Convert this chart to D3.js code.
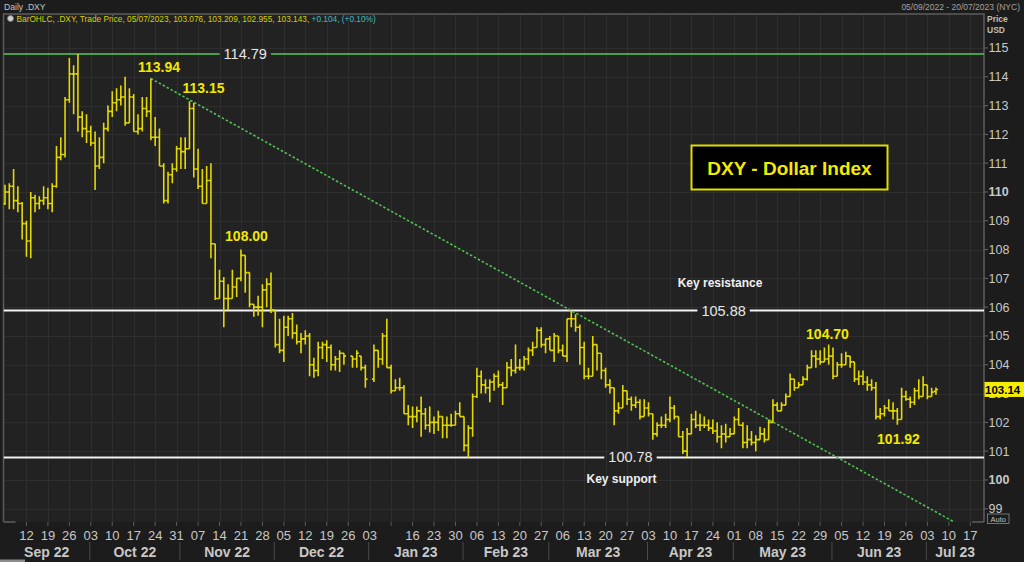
<!DOCTYPE html>
<html><head><meta charset="utf-8">
<script src="https://cdn.jsdelivr.net/npm/d3@7"></script>
<style>
html,body{margin:0;padding:0;background:#1c1c1c;overflow:hidden}
svg{display:block}
text{font-family:"Liberation Sans",Arial,sans-serif}
</style></head><body>
<svg id="c" width="1024" height="562"></svg>
<script>
// ---- DATA (daily OHLC, .DXY, consecutive weekdays starting 05/09/2022; null = no bar) ----
const startDate = "2022-09-05";
const opens = [
109.6,110.0,110.2,109.7,109.6,108.9,108.3,109.8,109.6,109.7,
109.8,109.6,110.2,111.2,111.3,113.2,114.1,114.1,112.6,112.2,
112.1,111.7,110.9,111.2,112.2,112.8,113.1,113.2,113.3,112.4,
113.3,112.1,112.2,112.9,112.8,111.9,111.9,110.9,109.7,110.6,
110.8,111.5,111.4,111.5,112.9,110.8,110.2,109.6,110.4,108.2,
106.3,106.9,106.3,106.3,106.7,107.0,107.8,107.2,106.1,106.0,
106.0,106.6,106.8,105.9,104.7,104.5,105.3,105.6,105.1,104.8,
104.9,105.0,104.0,103.8,104.6,104.7,104.6,104.0,104.2,104.4,
null,104.3,104.2,104.3,103.9,null,103.5,104.5,104.2,105.0,
103.9,103.1,103.2,103.2,102.3,102.2,102.2,102.4,102.3,101.9,
102.0,102.0,102.2,101.9,101.9,101.9,102.3,102.2,101.2,101.8,
102.9,103.6,103.3,103.2,103.4,103.6,103.3,103.2,103.9,103.8,
103.9,103.9,104.2,104.5,104.6,105.2,104.7,104.9,104.5,105.0,
104.5,104.3,105.6,105.6,105.3,104.6,103.6,103.6,104.7,104.4,
103.8,103.3,103.2,102.4,102.5,103.1,102.8,102.6,102.7,102.2,
102.5,102.3,101.6,101.9,101.9,102.1,102.5,102.2,101.5,101.0,
101.6,102.1,101.9,101.9,101.9,101.8,101.7,101.5,101.6,101.5,
101.6,102.1,101.9,101.3,101.4,101.3,101.4,101.6,101.4,102.0,
102.6,102.4,102.6,102.9,103.5,103.2,103.3,103.5,103.9,104.3,
104.2,104.1,104.2,104.3,103.6,104.0,104.0,104.3,104.1,103.5,
103.6,103.4,103.3,103.2,102.2,102.3,102.5,102.4,102.4,102.1,
102.9,102.8,102.7,103.1,102.9,103.3,102.9,103.076];
const highs = [
110.25,110.3,110.8,110.2,109.65,109.0,110.0,109.9,109.85,110.2,
110.15,110.3,111.6,111.9,113.3,114.65,114.4,114.79,112.8,112.7,
112.3,112.1,111.9,112.4,113.0,113.5,113.6,113.7,114.0,113.6,
113.4,112.7,113.3,113.3,113.94,112.6,112.2,111.0,110.7,111.0,
111.6,111.9,111.9,113.15,113.1,111.5,110.8,110.9,111.0,108.2,
107.3,107.05,106.8,107.3,107.0,108.0,107.8,107.2,106.1,106.4,
106.8,107.0,107.2,105.9,105.6,105.7,105.7,105.8,105.4,105.1,
105.2,105.1,104.24,104.8,104.8,104.85,104.7,104.3,104.5,104.4,
null,104.3,104.5,104.3,104.0,null,104.7,104.5,105.1,105.6,
104.0,103.5,103.55,103.3,102.6,102.55,102.55,102.9,102.5,102.55,
102.2,102.4,102.2,102.2,102.3,102.4,102.7,102.2,101.9,103.0,
103.9,103.8,103.5,103.5,103.7,103.8,103.4,104.1,104.2,104.7,
104.2,104.3,104.6,104.8,105.3,105.3,104.9,105.0,105.1,105.0,
104.7,105.6,105.88,105.75,105.4,104.8,103.9,105.0,104.7,104.4,
103.9,103.5,103.2,102.7,103.3,103.1,102.9,102.9,102.8,102.8,
102.7,102.3,102.0,102.2,102.3,102.9,102.6,102.2,101.7,101.8,
102.3,102.4,102.3,102.2,102.1,102.1,102.0,101.9,101.95,101.8,
102.2,102.5,102.0,101.9,101.7,101.55,101.85,101.8,102.1,102.8,
102.7,102.7,103.0,103.7,103.5,103.4,103.6,104.0,104.5,104.5,
104.5,104.6,104.7,104.6,104.1,104.4,104.45,104.3,104.1,103.8,
103.8,103.6,103.5,103.4,102.5,102.6,102.8,102.7,102.5,103.2,
103.1,102.9,103.2,103.5,103.6,103.3,103.2,103.209];
const lows = [
109.55,109.4,109.4,109.3,108.35,107.75,107.7,109.3,109.4,109.55,
109.4,109.3,110.15,111.1,111.2,113.1,112.7,112.1,111.9,111.7,
111.6,110.07,110.8,111.0,112.1,112.6,112.8,113.0,112.3,112.4,
112.1,112.0,112.1,112.6,111.8,111.6,110.9,109.6,109.6,110.3,
110.7,110.8,110.8,111.5,110.5,110.1,109.6,109.6,107.7,106.25,
106.3,105.3,105.9,106.3,106.35,106.9,106.5,106.0,105.67,105.7,
105.3,106.0,105.8,104.6,104.4,104.1,105.0,104.9,104.7,104.4,
104.7,103.6,103.55,103.6,104.2,104.1,103.8,103.8,103.75,104.0,
null,103.9,103.9,103.8,103.2,null,103.4,103.9,104.0,103.9,
103.0,103.1,103.1,102.3,101.9,101.8,102.0,101.5,101.75,101.65,
101.6,101.7,101.45,101.45,101.85,101.9,102.2,101.0,100.78,101.5,
102.85,103.0,103.0,102.7,103.1,103.2,102.6,103.2,103.6,103.7,
103.8,103.8,104.0,104.3,104.6,104.6,104.4,104.5,104.1,104.4,
104.3,104.1,105.3,105.15,104.0,103.5,103.5,103.6,103.8,103.5,
103.2,103.0,101.9,102.3,102.5,102.6,102.4,102.5,102.1,102.2,
102.2,101.4,101.5,101.8,101.8,102.0,102.1,101.5,100.9,100.8,
101.6,101.8,101.7,101.8,101.7,101.6,101.3,101.1,101.3,101.5,
101.6,101.9,101.1,101.1,101.2,101.0,101.4,101.3,101.4,102.0,
102.4,102.4,102.6,102.9,103.1,103.2,103.3,103.45,103.9,103.9,
104.0,104.1,104.0,103.5,103.6,103.9,104.0,103.9,103.4,103.3,
103.3,103.1,103.1,102.1,102.1,102.2,102.4,102.1,101.92,102.1,
102.75,102.5,102.6,102.8,102.9,102.8,102.9,102.955];
const closes = [
110.0,110.2,109.7,109.6,108.9,108.3,109.8,109.6,109.7,109.8,
109.6,110.2,111.2,111.3,113.2,114.1,114.1,112.6,112.2,112.1,
111.7,110.9,111.2,112.2,112.8,113.1,113.2,113.3,112.4,113.3,
112.1,112.2,112.9,112.8,111.9,111.9,110.9,109.7,110.6,110.8,
111.5,111.4,111.5,112.9,110.8,110.2,109.6,110.4,108.2,106.3,
106.9,106.3,106.3,106.7,107.0,107.8,107.2,106.1,106.0,106.0,
106.6,106.8,105.9,104.7,104.5,105.3,105.6,105.1,104.8,104.9,
105.0,104.0,103.8,104.6,104.7,104.6,104.0,104.2,104.4,104.3,
null,104.2,104.4,103.9,103.5,null,104.5,104.2,105.0,103.9,
103.1,103.2,103.2,102.3,102.2,102.2,102.4,102.3,101.9,102.0,
102.0,102.2,101.9,101.9,101.9,102.3,102.2,101.2,101.8,102.9,
103.6,103.3,103.2,103.4,103.6,103.3,103.2,103.9,103.8,103.9,
103.9,104.2,104.5,104.6,105.2,104.7,104.9,104.5,105.0,104.5,
104.3,105.6,105.6,105.3,104.6,103.6,103.6,104.7,104.4,103.8,
103.3,103.2,102.4,102.5,103.1,102.8,102.6,102.7,102.2,102.5,
102.3,101.6,101.9,101.9,102.1,102.5,102.2,101.5,101.0,101.6,
102.1,101.9,101.9,101.9,101.8,101.7,101.5,101.6,101.5,101.6,
102.1,101.9,101.3,101.4,101.3,101.4,101.6,101.4,102.0,102.6,
102.4,102.6,102.9,103.5,103.2,103.3,103.5,103.9,104.3,104.2,
104.1,104.2,104.3,103.6,104.0,104.0,104.3,104.1,103.5,103.6,
103.4,103.3,103.2,102.2,102.3,102.5,102.4,102.4,102.1,102.9,
102.8,102.7,103.1,102.9,103.3,102.9,103.05,103.143];

const priceTicks = [99,100,101,102,103,104,105,106,107,108,109,110,111,112,113,114,115];
const boldPriceTicks = [100,110];
const dayTickLabels = ["12","19","26","03","10","17","24","31","07","14","21","28","05","12","19","26",
  "03","","16","23","30","06","13","20","27","06","13","20","27","03","10","17","24",
  "01","08","15","22","29","05","12","19","26","03","10","17"];
const monthLabels = ["Sep 22","Oct 22","Nov 22","Dec 22","Jan 23","Feb 23","Mar 23","Apr 23","May 23","Jun 23","Jul 23"];
const keyLevels = [114.79, 105.88, 100.78];
const keyLevelNames = ["114.79","105.88","100.78"];
const peakValues = [113.94, 113.15, 108.00, 104.70, 101.92];
const peakNames = ["113.94","113.15","108.00","104.70","101.92"];
const trendAnchorIdx = [34, 132];        // 21/10/2022 high and 08/03/2023 high
const trendAnchorVal = [113.94, 105.88];
const lastPrice = 103.143;
const title = "DXY - Dollar Index";

// ---- LAYOUT ----
const svg = d3.select("#c");
const W = 1024, H = 562;
const P = {l:3.5, r:984, t:14, b:522};
const n = Math.min(opens.length, highs.length, lows.length, closes.length);

// weekday calendar (axis categories)
const cal = [];
{ const d = new Date(startDate + "T12:00:00"); while (cal.length < 232) { const wd = d.getDay(); if (wd > 0 && wd < 6) cal.push(new Date(d)); d.setDate(d.getDate() + 1); } }

const x = d3.scaleLinear().domain([-0.35, 228.2]).range([P.l, P.r]);
const y = d3.scaleLinear().domain([98.54, 116.18]).range([P.b, P.t]);

const BG = "#1c1c1c", PLOT = "#222222", GRID = "#2e2e2e", AX = "#5c5c5c", TXT = "#c8c8c8";

svg.append("rect").attr("width", W).attr("height", H).attr("fill", BG);
svg.append("rect").attr("x", P.l).attr("y", P.t).attr("width", P.r - P.l).attr("height", P.b - P.t).attr("fill", PLOT);

// weekly ticks (Mondays from 12/09/2022)
const mondayIdx = [];
cal.forEach((d, i) => { if (d.getDay() === 1 && i >= 5 && mondayIdx.length < dayTickLabels.length) mondayIdx.push(i); });

// grid
const grid = svg.append("g");
grid.selectAll("line.v").data(mondayIdx).join("line").attr("class","v")
  .attr("x1", d => Math.round(x(d)) + 0.5).attr("x2", d => Math.round(x(d)) + 0.5)
  .attr("y1", P.t).attr("y2", P.b).attr("stroke", GRID).attr("stroke-width", 1);
grid.selectAll("line.h").data(priceTicks).join("line").attr("class","h")
  .attr("x1", P.l).attr("x2", P.r)
  .attr("y1", d => Math.round(y(d)) + 0.5).attr("y2", d => Math.round(y(d)) + 0.5)
  .attr("stroke", GRID).attr("stroke-width", 1);

// frame
const fr = svg.append("g").attr("stroke", AX).attr("stroke-width", 1.5).attr("fill", "none");
fr.append("path").attr("d", `M${P.l},${P.b}V${P.t}H${P.r}V${P.b}`);
fr.append("path").attr("d", `M${P.l},${P.b}H${P.l + 12}M${P.r - 12},${P.b}H${P.r}`);

// right axis
const ya = svg.append("g");
ya.selectAll("line").data(priceTicks).join("line")
  .attr("x1", P.r).attr("x2", P.r + 4).attr("y1", d => y(d)).attr("y2", d => y(d))
  .attr("stroke", AX).attr("stroke-width", 1.2);
ya.selectAll("text").data(priceTicks).join("text")
  .attr("x", P.r + 4.5).attr("y", d => y(d)).attr("dy", "0.36em")
  .attr("fill", TXT).attr("font-size", 12.5)
  .attr("font-weight", d => boldPriceTicks.includes(d) ? "bold" : "normal")
  .text(d => d);
svg.append("text").attr("x", 987).attr("y", 22).attr("fill", "#bdbdbd").attr("font-size", 8.5).attr("font-weight", "bold").text("Price");
svg.append("text").attr("x", 987).attr("y", 33).attr("fill", "#bdbdbd").attr("font-size", 8.5).attr("font-weight", "bold").text("USD");
svg.append("rect").attr("x", 987.5).attr("y", 514).attr("width", 21.5).attr("height", 9.5).attr("fill", "none").attr("stroke", "#8a8a8a").attr("stroke-width", 0.8);
svg.append("text").attr("x", 998.2).attr("y", 521.6).attr("text-anchor", "middle").attr("fill", "#c0c0c0").attr("font-size", 7.5).text("Auto");

// bottom axis: day ticks
const xa = svg.append("g");
xa.selectAll("line").data(mondayIdx).join("line")
  .attr("x1", d => x(d)).attr("x2", d => x(d)).attr("y1", P.b).attr("y2", P.b + 4)
  .attr("stroke", AX).attr("stroke-width", 1);
xa.selectAll("text").data(mondayIdx).join("text")
  .attr("x", d => x(d)).attr("y", 540).attr("text-anchor", "middle")
  .attr("fill", TXT).attr("font-size", 13)
  .text((d, k) => dayTickLabels[k]);

// months
const monthStart = [0];
for (let i = 1; i < cal.length && monthStart.length < monthLabels.length; i++) if (cal[i].getMonth() !== cal[i-1].getMonth()) monthStart.push(i);
const sepX = monthStart.map((s, k) => k === 0 ? P.l : x(s) - 1);
const mg = svg.append("g");
sepX.slice(1).forEach(sx => mg.append("line").attr("x1", sx).attr("x2", sx).attr("y1", 542).attr("y2", 560).attr("stroke", "#4a4a4a").attr("stroke-width", 1));
monthLabels.forEach((m, k) => {
  const a = sepX[k], b = k + 1 < sepX.length ? sepX[k+1] : P.r;
  mg.append("text").attr("x", (a + b) / 2).attr("y", 556.5).attr("text-anchor", "middle")
    .attr("fill", TXT).attr("font-size", 14).attr("font-weight", "bold").text(m);
});
svg.append("rect").attr("x", 0).attr("y", 559.5).attr("width", 25).attr("height", 2.5).attr("fill", "#8c8c8c");

// header
svg.append("text").attr("x", 4).attr("y", 9.5).attr("fill", "#c4c4c4").attr("font-size", 8.6).text("Daily .DXY");
svg.append("text").attr("x", 1020).attr("y", 9.5).attr("text-anchor", "end").attr("fill", "#a2a2a2").attr("font-size", 8.5).text("05/09/2022 - 20/07/2023 (NYC)");
svg.append("circle").attr("cx", 10.5).attr("cy", 18.5).attr("r", 3).attr("fill", "#d0d0d0").attr("stroke", "#777").attr("stroke-width", 0.8);
const lg = svg.append("text").attr("x", 16.5).attr("y", 22).attr("font-size", 8.3);
lg.append("tspan").attr("fill", "#d8ce00").text(`BarOHLC, .DXY, Trade Price, 05/07/2023, ${opens[n-1]}, ${highs[n-1]}, ${lows[n-1]}, ${closes[n-1]}, `);
lg.append("tspan").attr("fill", "#3fbcc4").text("+0.104, (+0.10%)");

// clip
svg.append("clipPath").attr("id", "pc").append("rect").attr("x", P.l).attr("y", P.t).attr("width", P.r - P.l).attr("height", P.b - P.t);
const pg = svg.append("g").attr("clip-path", "url(#pc)");

// key level lines with labels
const levelColor = ["#58c858", "#f2f2f2", "#f2f2f2"];
const levelWidth = [1.5, 2, 2];
const levelLabelIdx = [56, 167.5, 145.8];
keyLevels.forEach((v, k) => {
  const ly = y(v), lx = x(levelLabelIdx[k]);
  const t = svg.append("text").attr("x", lx).attr("y", ly + 5).attr("text-anchor", "middle")
    .attr("fill", "#e6e6e6").attr("font-size", 14.5).text(keyLevelNames[k]);
  const w = t.node().getComputedTextLength();
  pg.append("path").attr("d", `M${P.l},${ly}H${lx - w/2 - 4}M${lx + w/2 + 4},${ly}H${P.r}`)
    .attr("stroke", levelColor[k]).attr("stroke-width", levelWidth[k]).attr("fill", "none");
});

// trend line
const slope = (trendAnchorVal[1] - trendAnchorVal[0]) / (trendAnchorIdx[1] - trendAnchorIdx[0]);
const endIdx = 232;
pg.append("line")
  .attr("x1", x(trendAnchorIdx[0])).attr("y1", y(trendAnchorVal[0]))
  .attr("x2", x(endIdx)).attr("y2", y(trendAnchorVal[0] + slope * (endIdx - trendAnchorIdx[0])))
  .attr("stroke", "#52c052").attr("stroke-width", 1.6).attr("stroke-dasharray", "2.5,2");

// OHLC bars
const bars = d3.range(n).filter(i => opens[i] != null).map(i => ({i, o:opens[i], h:highs[i], l:lows[i], c:closes[i]}));
pg.append("g").selectAll("path").data(bars).join("path")
  .attr("d", d => { const cx = x(d.i); return `M${cx},${y(d.h)}V${y(d.l)}M${cx - 2.1},${y(d.o)}H${cx}M${cx},${y(d.c)}H${cx + 2.1}`; })
  .attr("stroke", "#e4d900").attr("stroke-width", 1.6).attr("fill", "none");

// peak labels
const peakPos = [[159, 72], [203.5, 93], [246.5, 241], [827.5, 339], [898.5, 444]];
peakValues.forEach((v, k) => {
  svg.append("text").attr("x", peakPos[k][0]).attr("y", peakPos[k][1]).attr("text-anchor", "middle")
    .attr("fill", "#f2e800").attr("font-size", 14).attr("font-weight", "bold").text(peakNames[k]);
});

// key texts
svg.append("text").attr("x", 720).attr("y", 286.5).attr("text-anchor", "middle").attr("fill", "#f0f0f0")
  .attr("font-size", 12).attr("font-weight", "bold").text("Key resistance");
svg.append("text").attr("x", 621.5).attr("y", 483).attr("text-anchor", "middle").attr("fill", "#f0f0f0")
  .attr("font-size", 12).attr("font-weight", "bold").text("Key support");

// title box
svg.append("rect").attr("x", 691.5).attr("y", 145.5).attr("width", 196).attr("height", 44)
  .attr("fill", "#000").attr("stroke", "#e2dc00").attr("stroke-width", 2);
svg.append("text").attr("x", 789.5).attr("y", 174.5).attr("text-anchor", "middle").attr("fill", "#f2ea00")
  .attr("font-size", 19).attr("font-weight", "bold").text(title);

// last price tag (covers the 103 tick label, as in the original)
svg.append("rect").attr("x", 984.5).attr("y", y(lastPrice) - 7.5).attr("width", 40).attr("height", 15).attr("fill", "#f4ee00");
svg.append("text").attr("x", 985).attr("y", y(lastPrice) + 4.3).attr("fill", "#000").attr("font-size", 11.5)
  .attr("font-weight", "bold").text(lastPrice.toFixed(2));
</script>
</body></html>
